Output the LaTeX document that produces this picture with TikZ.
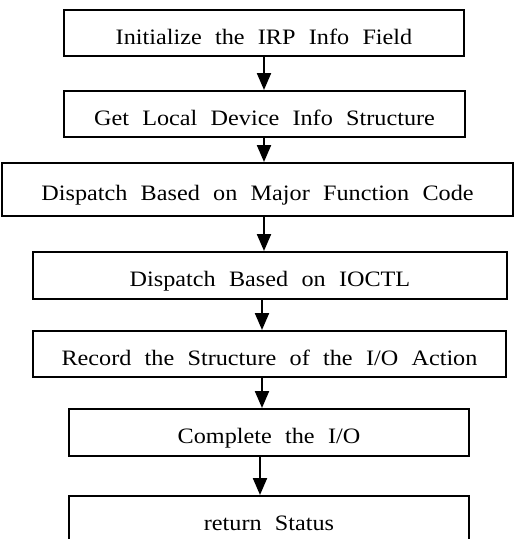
\documentclass[tikz,border=0pt]{standalone}
\usepackage{fontspec}
\setmainfont{Liberation Serif}[FakeStretch=1.1, WordSpace=2.2]
\usetikzlibrary{arrows.meta}
\begin{document}
\begin{tikzpicture}[x=1pt,y=-1pt,
  stepbox/.style={draw, line width=2pt, inner sep=0pt, minimum height=46pt,
    text height=22pt, text depth=0pt, font=\fontsize{22}{25}\selectfont},
  flow/.style={line width=2.2pt, -{Triangle[width=14pt,length=17pt]}}]
\useasboundingbox (0,0) rectangle (520,539);
\clip (0,0) rectangle (520,539);

% processing steps, top to bottom
\node[stepbox, minimum width=400pt] (b1) at (264,33) {Initialize the IRP Info Field};
\node[stepbox, minimum width=401pt] (b2) at (264.5,114) {Get Local Device Info Structure};
\node[stepbox, minimum width=511pt, minimum height=53pt] (b3) at (257.5,189.5) {Dispatch Based on Major Function Code};
\node[stepbox, minimum width=474pt, minimum height=47pt] (b4) at (270,275.5) {Dispatch Based on IOCTL};
\node[stepbox, minimum width=473pt] (b5) at (269.5,354) {Record the Structure of the I/O Action};
\node[stepbox, minimum width=400pt, minimum height=47pt] (b6) at (269,432.5) {Complete the I/O};
\node[stepbox, minimum width=400pt] (b7) at (269,519) {return Status};

% columns of the connecting arrows
\coordinate (c1) at (264,0);
\coordinate (c2) at (262,0);
\coordinate (c3) at (260,0);

\draw[flow] (b1.south -| c1) -- (b2.north -| c1);
\draw[flow] (b2.south -| c1) -- (b3.north -| c1);
\draw[flow] (b3.south -| c1) -- (b4.north -| c1);
\draw[flow] (b4.south -| c2) -- (b5.north -| c2);
\draw[flow] (b5.south -| c2) -- (b6.north -| c2);
\draw[flow] (b6.south -| c3) -- (b7.north -| c3);
\end{tikzpicture}
\end{document}
